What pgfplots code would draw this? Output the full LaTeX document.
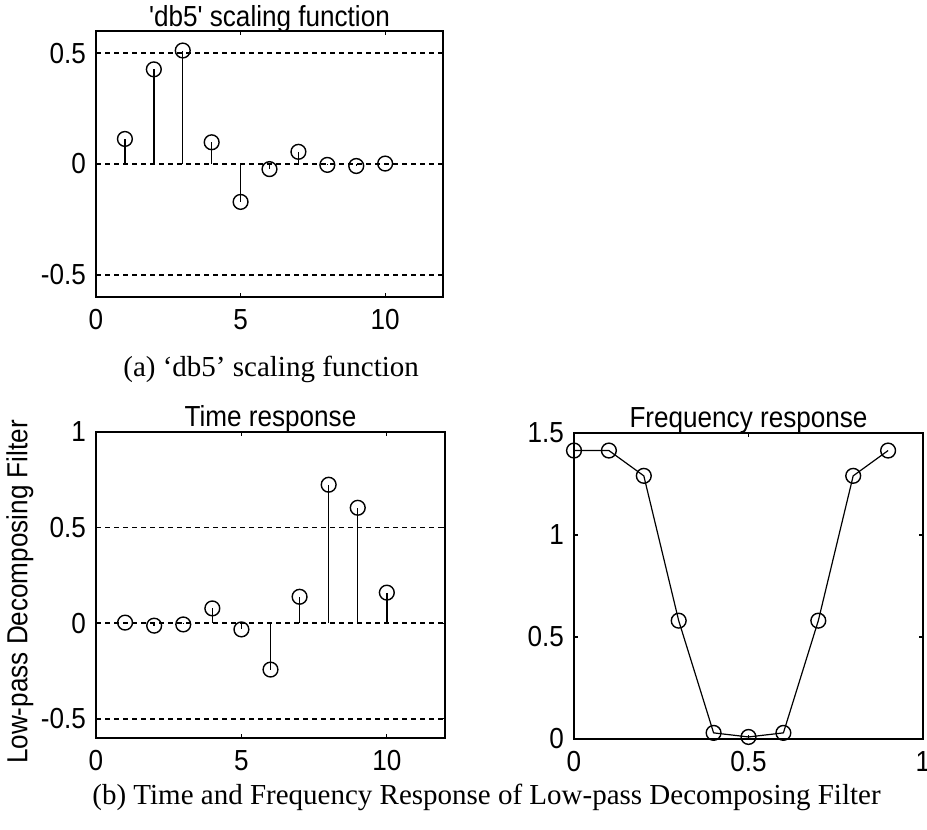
\documentclass[border=0pt]{standalone}
\usepackage{pgfplots}
\pgfplotsset{compat=1.18}
\usepackage{fontspec}
\setmainfont{Liberation Serif}
\setsansfont{Liberation Sans}
\newfontfamily\axfam[FakeStretch=0.9]{Liberation Sans}
\newcommand{\axfont}{\axfam\fontsize{14.5}{16}\selectfont}
\pgfplotsset{
  every axis title/.style={at={(0.5,1)}, anchor=base, yshift=2.5pt, font=\axfont},
  mat/.style={
    scale only axis,
    anchor=south west,
    axis line style={line width=0.9pt},
    tick align=inside,
    xtick pos=both, ytick pos=both,
    major tick length=2pt,
    tick style={line width=0.6pt, black},
    ticklabel style={font=\axfont},
    xticklabel style={yshift=-2.5pt},
    yticklabel style={xshift=-1.5pt},
    clip=false,
  },
  stem/.style={black, line width=0.7pt, ycomb, mark=o, mark size=3.7pt, mark options={solid, line width=0.7pt}},
}
\begin{document}
\begin{tikzpicture}
\path[use as bounding box] (0,0) rectangle (463.5pt,415pt);
% (a) db5 scaling function
\begin{axis}[mat, at={(48pt,266.5pt)}, width=173.5pt, height=133pt,
  xmin=0, xmax=12, ymin=-0.6, ymax=0.6,
  xtick={0,5,10}, xticklabels={0,5,10},
  ytick={-0.5,0,0.5}, yticklabels={-0.5,0,0.5},
  ymajorgrids, grid style={black, line width=0.8pt, dash pattern=on 2.5pt off 2pt},
  title={'db5' scaling function}]
\addplot[stem] coordinates {(1,0.113) (2,0.427) (3,0.512) (4,0.098) (5,-0.171) (6,-0.023) (7,0.055) (8,-0.004) (9,-0.009) (10,0.002)};
\end{axis}
% (b) time response
\begin{axis}[mat, at={(48pt,46pt)}, width=174.5pt, height=153pt,
  xmin=0, xmax=12, ymin=-0.6, ymax=1,
  xtick={0,5,10}, xticklabels={0,5,10},
  ytick={-0.5,0,0.5,1}, yticklabels={-0.5,0,0.5,1},
  ymajorgrids, grid style={black, line width=0.8pt, dash pattern=on 2.5pt off 2pt},
  title={Time response}]
\addplot[stem] coordinates {(1,0.0033) (2,-0.0126) (3,-0.0062) (4,0.0776) (5,-0.0322) (6,-0.2423) (7,0.1384) (8,0.7243) (9,0.6038) (10,0.1601)};
\end{axis}
% (b) frequency response
\begin{axis}[mat, at={(287pt,45.5pt)}, width=174.5pt, height=153pt,
  xmin=0, xmax=1, ymin=0, ymax=1.5,
  xtick={0,0.5,1}, xticklabels={0,0.5,1},
  ytick={0,0.5,1,1.5}, yticklabels={0,0.5,1,1.5},
  title={Frequency response}]
\addplot[black, line width=0.6pt, mark=o, mark size=3.7pt, mark options={solid, line width=0.7pt}] coordinates {(0,1.414) (0.1,1.414) (0.2,1.29) (0.3,0.58) (0.4,0.03) (0.5,0.01) (0.6,0.03) (0.7,0.58) (0.8,1.29) (0.9,1.414)};
\end{axis}
\node[rotate=90, font=\axfont, inner sep=0pt] at (10pt,119pt) {Low-pass Decomposing Filter};
\node[anchor=base west, inner sep=0pt, font=\fontsize{14.5}{17}\selectfont] at (61.5pt,226.5pt) {(a) `db5' scaling function};
\node[anchor=base west, inner sep=0pt, font=\fontsize{14.5}{17}\selectfont] at (46pt,12.5pt) {(b) Time and Frequency Response of Low-pass Decomposing Filter};
\end{tikzpicture}
\end{document}
